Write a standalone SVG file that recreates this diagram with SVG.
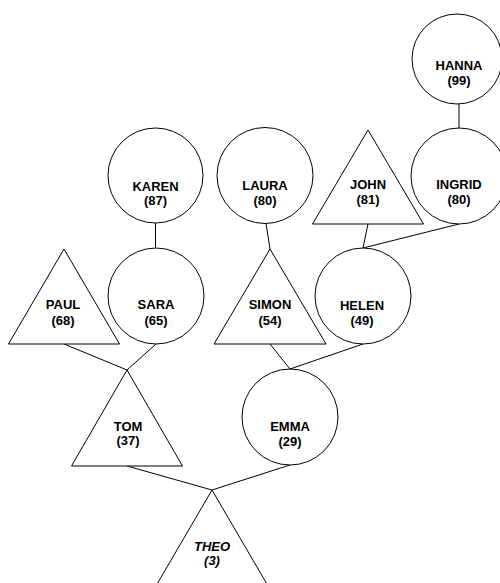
<svg xmlns="http://www.w3.org/2000/svg" width="500" height="583" viewBox="0 0 500 583">
<style>
.n{fill:#fff;stroke:#000;stroke-width:1}
.c line{stroke:#000;stroke-width:1}
text{font-family:"Liberation Sans",Arial,sans-serif;font-size:13px;font-weight:bold;text-anchor:middle;fill:#000}
.it{font-style:italic}
</style>
<rect width="500" height="583" fill="#fff"/>
<g class="c" id="connectors">
<line x1="459" y1="104" x2="459" y2="128"/>
<line x1="368" y1="224" x2="363" y2="248"/>
<line x1="459" y1="224" x2="363" y2="248"/>
<line x1="155.5" y1="223" x2="155.5" y2="248"/>
<line x1="266" y1="223.5" x2="270" y2="249"/>
<line x1="64" y1="344" x2="127" y2="370"/>
<line x1="156" y1="344" x2="127" y2="370"/>
<line x1="270" y1="344" x2="290" y2="369"/>
<line x1="363" y1="344" x2="290" y2="369"/>
<line x1="127" y1="466" x2="212" y2="490"/>
<line x1="290" y1="465" x2="212" y2="490"/>
</g>
<g id="hanna"><circle class="n" cx="457" cy="59" r="45"/><text x="459" y="69.5">HANNA</text><text x="459" y="84.5">(99)</text></g>
<g id="ingrid"><circle class="n" cx="459" cy="176" r="48"/><text x="459" y="189">INGRID</text><text x="459" y="203.5">(80)</text></g>
<g id="karen"><circle class="n" cx="155.5" cy="175.5" r="47.5"/><text x="155.5" y="190.5">KAREN</text><text x="155.5" y="204.5">(87)</text></g>
<g id="laura"><circle class="n" cx="265" cy="175.5" r="48"/><text x="265" y="190">LAURA</text><text x="265" y="204.5">(80)</text></g>
<g id="john"><polygon class="n" points="368,130 423.5,224 312.5,224"/><text x="368" y="188.5">JOHN</text><text x="368" y="203.5">(81)</text></g>
<g id="helen"><circle class="n" cx="363" cy="296" r="48"/><text x="362" y="309.5">HELEN</text><text x="362" y="324.5">(49)</text></g>
<g id="simon"><polygon class="n" points="270,249 326,344 214,344"/><text x="270" y="308.5">SIMON</text><text x="270" y="324.5">(54)</text></g>
<g id="sara"><circle class="n" cx="156" cy="296" r="48"/><text x="156" y="308.5">SARA</text><text x="156" y="324.5">(65)</text></g>
<g id="paul"><polygon class="n" points="64,249 119.5,344 8.5,344"/><text x="63" y="308.5">PAUL</text><text x="63" y="324.5">(68)</text></g>
<g id="tom"><polygon class="n" points="127,370 182.5,466 71.5,466"/><text x="128" y="430.5">TOM</text><text x="128" y="445">(37)</text></g>
<g id="emma"><circle class="n" cx="290" cy="417" r="48"/><text x="290" y="430.5">EMMA</text><text x="290" y="445.5">(29)</text></g>
<g id="theo"><polygon class="n" points="212,490 267.5,585 156.5,585"/><text class="it" x="212" y="550.5">THEO</text><text class="it" x="212" y="564.5">(3)</text></g>
</svg>
